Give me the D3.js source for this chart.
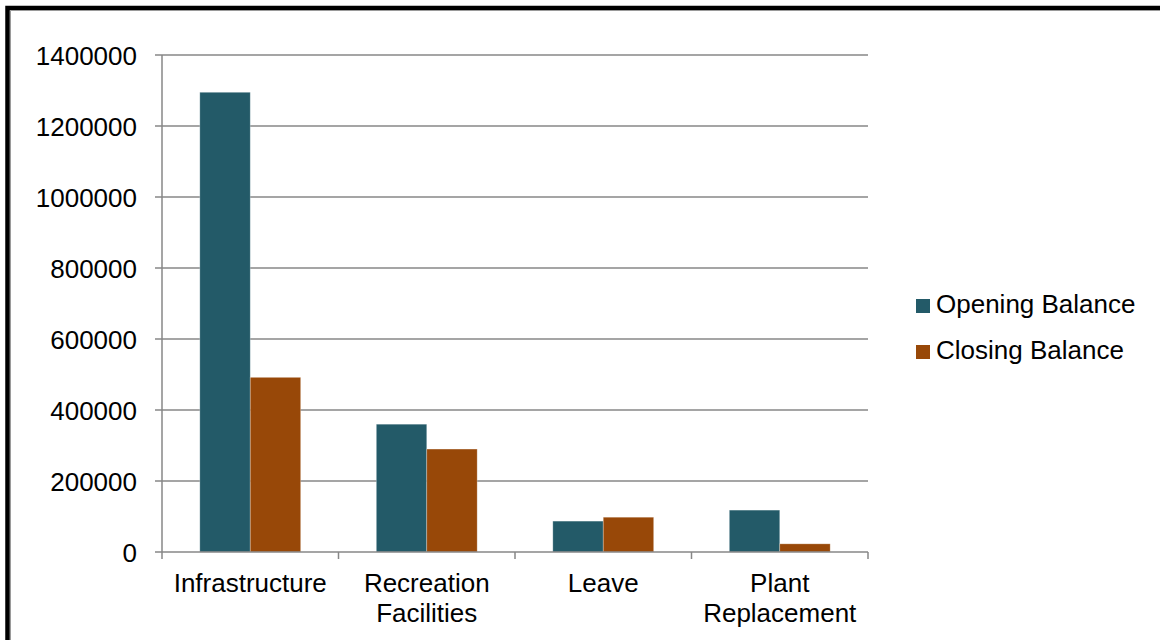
<!DOCTYPE html>
<html>
<head>
<meta charset="utf-8">
<script src="https://cdn.jsdelivr.net/npm/d3@7/dist/d3.min.js"></script>
<style>
  html, body { margin: 0; padding: 0; background: #fff; }
  svg { display: block; font-family: "Liberation Sans", Arial, sans-serif; }
</style>
</head>
<body>
<svg id="chart" width="1160" height="640"></svg>
<script>
// Reserve balances per fund
const categories = [["Infrastructure"], ["Recreation", "Facilities"], ["Leave"], ["Plant", "Replacement"]];
const seriesNames = ["Opening Balance", "Closing Balance"];
const openingBalance = [1295000, 360000, 87000, 118000];
const closingBalance = [492000, 290000, 98000, 23000];
const yTicks = [0, 200000, 400000, 600000, 800000, 1000000, 1200000, 1400000];
const colors = ["#235A68", "#984808"];

const svg = d3.select("#chart");
const W = 1160, H = 640;
const plot = { left: 162, right: 868, top: 55, bottom: 552 };

// outer frame
svg.append("rect")
  .attr("x", 7.5).attr("y", 8).attr("width", W + 20).attr("height", H + 20)
  .attr("fill", "none").attr("stroke", "#000").attr("stroke-width", 4.5);
svg.append("path")
  .attr("d", `M10.5,${H + 10}V10.5H${W + 10}`)
  .attr("fill", "none").attr("stroke", "#9a9a9a").attr("stroke-width", 1);

const keys = categories.map(c => c.join(" "));
const x0 = d3.scaleBand().domain(keys).range([plot.left, plot.right]).padding(0);
const x1 = d3.scaleBand().domain(seriesNames).range([0, x0.bandwidth()]).paddingInner(0).paddingOuter(0.75);
const y = d3.scaleLinear().domain([0, 1400000]).range([plot.bottom, plot.top]);

const gridColor = "#878787";

// horizontal gridlines with short ticks to the left
svg.append("g").selectAll("line").data(yTicks.filter(d => d > 0)).join("line")
  .attr("x1", plot.left - 7).attr("x2", plot.right)
  .attr("y1", d => y(d)).attr("y2", d => y(d))
  .attr("stroke", gridColor).attr("stroke-width", 1.5);

// bars
const data = keys.map((k, i) => ({ key: k, values: [openingBalance[i], closingBalance[i]] }));
const groups = svg.append("g").selectAll("g").data(data).join("g")
  .attr("transform", d => `translate(${x0(d.key)},0)`);
groups.selectAll("rect").data(d => d.values.map((v, j) => ({ name: seriesNames[j], v, j }))).join("rect")
  .attr("x", d => x1(d.name))
  .attr("width", x1.bandwidth())
  .attr("y", d => y(d.v))
  .attr("height", d => y(0) - y(d.v))
  .attr("fill", d => colors[d.j])
  .attr("stroke", "rgba(255,255,255,0.35)")
  .attr("stroke-width", 0.8);

// y axis
const yAxis = d3.axisLeft(y).tickValues(yTicks).tickSize(0).tickPadding(0).tickFormat(d3.format("d"));
const yg = svg.append("g").attr("transform", `translate(${plot.left},0)`).call(yAxis);
yg.select(".domain").remove();
yg.selectAll("text")
  .attr("x", -25).attr("dy", "0.36em")
  .attr("font-size", 26).attr("fill", "#000")
  .style("font-family", "'Liberation Sans', Arial, sans-serif");
svg.append("line")
  .attr("x1", plot.left).attr("x2", plot.left)
  .attr("y1", plot.top).attr("y2", plot.bottom)
  .attr("stroke", gridColor).attr("stroke-width", 1.5);
svg.append("line")
  .attr("x1", plot.left - 7).attr("x2", plot.left)
  .attr("y1", y(0)).attr("y2", y(0))
  .attr("stroke", gridColor).attr("stroke-width", 1.5);

// x axis with ticks between categories
const xg = svg.append("g").attr("transform", `translate(0,${plot.bottom})`);
xg.append("line")
  .attr("x1", plot.left).attr("x2", plot.right)
  .attr("stroke", gridColor).attr("stroke-width", 1.5);
const boundaries = keys.map(k => x0(k)).concat([x0(keys[keys.length - 1]) + x0.bandwidth()]);
xg.selectAll("line.tick").data(boundaries).join("line")
  .attr("class", "tick")
  .attr("x1", d => d).attr("x2", d => d)
  .attr("y1", 0).attr("y2", 7)
  .attr("stroke", gridColor).attr("stroke-width", 1.5);

const labels = svg.append("g").selectAll("text").data(categories).join("text")
  .attr("text-anchor", "middle")
  .attr("font-size", 26).attr("fill", "#000")
  .attr("x", (d, i) => x0(keys[i]) + x0.bandwidth() / 2)
  .attr("y", 592);
labels.selectAll("tspan").data(d => d).join("tspan")
  .attr("x", function () { return d3.select(this.parentNode).attr("x"); })
  .attr("dy", (d, i) => i === 0 ? 0 : 30)
  .text(d => d);

// legend
const legend = svg.append("g").selectAll("g").data(seriesNames).join("g")
  .attr("transform", (d, i) => `translate(916,${299 + i * 46})`);
legend.append("rect")
  .attr("width", 14).attr("height", 14)
  .attr("fill", (d, i) => colors[i]);
legend.append("text")
  .attr("x", 20).attr("y", 14)
  .attr("font-size", 26).attr("fill", "#000")
  .text(d => d);
</script>
</body>
</html>
